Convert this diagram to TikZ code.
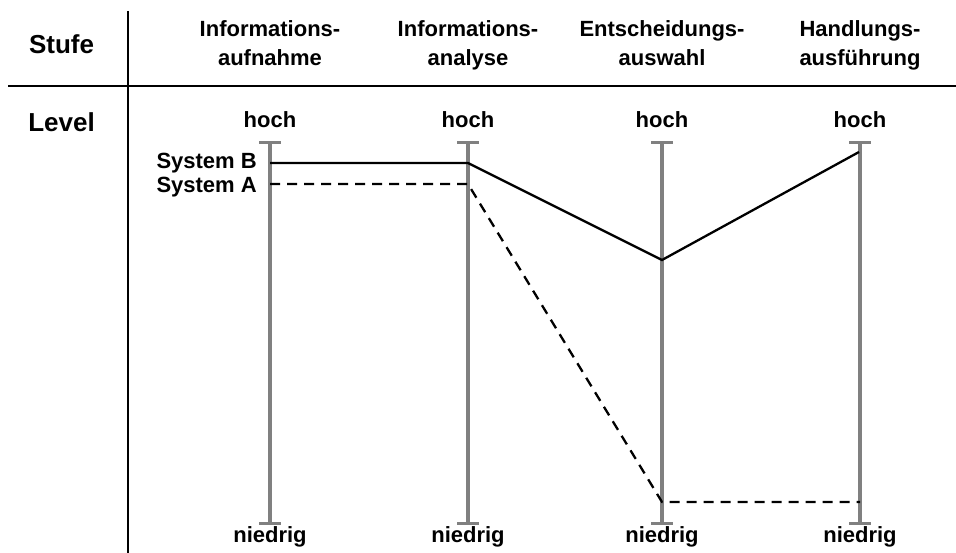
\documentclass[tikz,border=0pt]{standalone}
\usepackage{fontspec}
\setmainfont{Liberation Sans}
\begin{document}
\begin{tikzpicture}[x=1pt,y=-1pt,
  lbl/.style={inner sep=0pt,anchor=base,font=\fontsize{22}{26}\selectfont\bfseries},
  big/.style={inner sep=0pt,anchor=base,font=\fontsize{26}{30}\selectfont\bfseries},
  rule/.style={line width=2pt,black},
  bar/.style={line width=4.8pt,draw={rgb,255:red,128;green,128;blue,128}},
  barcap/.style={line width=3pt,draw={rgb,255:red,128;green,128;blue,128}},
  sysB/.style={line width=2.3pt,black,line join=miter},
  sysA/.style={line width=2.3pt,black,dash pattern=on 10pt off 7pt}]
\useasboundingbox (0,0) rectangle (956,553);
% table rules
\coordinate (vt) at (127.5,11);
\coordinate (vb) at (127.5,553);
\coordinate (hl) at (8,86);
\coordinate (hr) at (956,86);
\draw[rule] (vt) -- (vb);
\draw[rule] (hl) -- (hr);
% row labels
\node[big] (stufe) at (61.5,54) {Stufe};
\node[big] (level) at (61.5,131.5) {Level};
% headers
\node[lbl] (h1a) at (270,37) {Informations-};
\node[lbl] (h1b) at (270,66) {aufnahme};
\node[lbl] (h2a) at (468,37) {Informations-};
\node[lbl] (h2b) at (468,66) {analyse};
\node[lbl] (h3a) at (662,37) {Entscheidungs-};
\node[lbl] (h3b) at (662,66) {auswahl};
\node[lbl] (h4a) at (860,37) {Handlungs-};
\node[lbl] (h4b) at (860,66) {ausführung};
% axes
\foreach \i/\x in {1/270,2/468,3/662,4/860}{
  \coordinate (t\i) at (\x,143);
  \coordinate (b\i) at (\x,523);
  \node[lbl] (hoch\i) at (\x,128) {hoch};
  \node[lbl] (nied\i) at (\x,542) {niedrig};
  \draw[bar] (t\i) -- (b\i);
  \draw[barcap] ([xshift=-11pt]t\i) -- ([xshift=11pt]t\i);
  \draw[barcap] ([xshift=-11pt]b\i) -- ([xshift=11pt]b\i);
}
% systems
\coordinate (B1) at (270,163);
\coordinate (B2) at (468,163);
\coordinate (B3) at (662,260);
\coordinate (B4) at (859,152);
\coordinate (A1) at (270,184);
\coordinate (A2) at (468,184);
\coordinate (A3) at (662,502);
\coordinate (A4) at (860,502);
\draw[sysB] (B1) -- (B2) -- (B3) -- (B4);
\draw[sysA] (A1) -- (A2) -- (A3) -- (A4);
\node[lbl,anchor=base east] (sb) at (257,169) {System B};
\node[lbl,anchor=base east] (sa) at (257,193) {System A};
\end{tikzpicture}
\end{document}
